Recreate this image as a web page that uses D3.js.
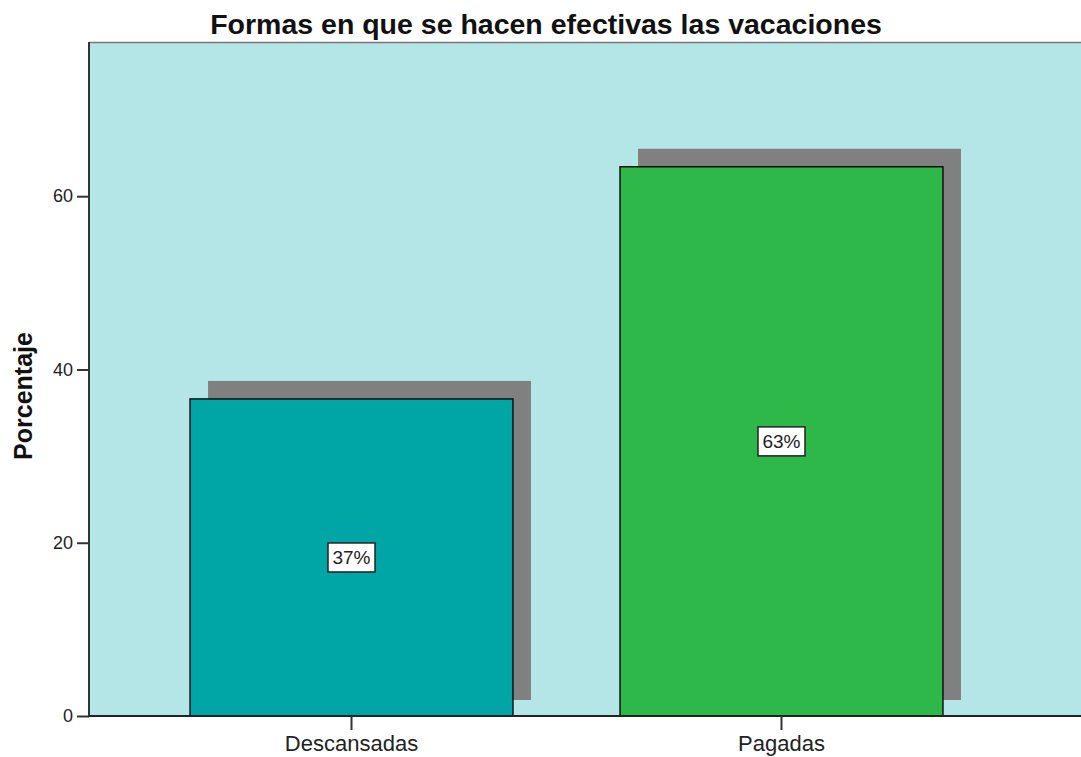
<!DOCTYPE html>
<html>
<head>
<meta charset="utf-8">
<script src="https://cdn.jsdelivr.net/npm/d3@7"></script>
<style>
  body { margin: 0; background: #fff; }
  svg text { font-family: "Liberation Sans", Arial, sans-serif; }
</style>
</head>
<body>
<div id="chart"></div>
<script>
(function(){
  'use strict';

  var categories = ['Descansadas', 'Pagadas'],
      values = [36.6, 63.4],
      labels = ['37%', '63%'],
      colors = ['#00a6a6', '#2eb84a'],
      yTicks = [0, 20, 40, 60];

  var w = 1081,
      h = 757,
      left = 89,
      top = 42,
      bottom = 716,
      shadowOff = 18;

  var svg = d3.select('#chart').append('svg')
      .attr('width', w)
      .attr('height', h);

  var x = d3.scaleBand()
      .domain(categories)
      .range([left, 1044])
      .paddingInner(0.249)
      .paddingOuter(0.235);

  var y = d3.scaleLinear()
      .domain([0, 77.8])
      .range([bottom, top]);

  // plot background
  svg.append('rect')
    .attr('x', left)
    .attr('y', top)
    .attr('width', w - left)
    .attr('height', bottom - top)
    .style('fill', '#b4e6e7');

  svg.append('line')
    .attr('x1', left).attr('x2', w)
    .attr('y1', top + 0.5).attr('y2', top + 0.5)
    .style('stroke', '#777')
    .style('stroke-width', 1.5);

  // shadows
  svg.selectAll('.shadow')
    .data(values)
    .enter()
    .append('rect')
    .attr('class', 'shadow')
    .attr('x', function(d, i) { return x(categories[i]) + shadowOff; })
    .attr('y', function(d) { return y(d) - shadowOff; })
    .attr('width', x.bandwidth())
    .attr('height', function(d) { return y(0) - 16 - (y(d) - shadowOff); })
    .style('fill', '#808080');

  // bars
  svg.selectAll('.bar')
    .data(values)
    .enter()
    .append('rect')
    .attr('class', 'bar')
    .attr('x', function(d, i) { return x(categories[i]); })
    .attr('y', function(d) { return y(d); })
    .attr('width', x.bandwidth())
    .attr('height', function(d) { return y(0) - y(d); })
    .style('fill', function(d, i) { return colors[i]; })
    .style('stroke', '#111')
    .style('stroke-width', 1.5);

  // value labels
  var lab = svg.selectAll('.lab')
    .data(values)
    .enter()
    .append('g')
    .attr('class', 'lab')
    .attr('transform', function(d, i) {
      return 'translate(' + (x(categories[i]) + x.bandwidth() / 2) + ',' + y(d / 2) + ')';
    });

  lab.append('rect')
    .attr('x', -23.5)
    .attr('y', -14.5)
    .attr('width', 47)
    .attr('height', 29)
    .style('fill', '#fff')
    .style('stroke', '#222')
    .style('stroke-width', 1.5);

  lab.append('text')
    .attr('text-anchor', 'middle')
    .attr('dy', '0.36em')
    .style('font-size', '19px')
    .style('fill', '#222')
    .text(function(d, i) { return labels[i]; });

  // axes
  var yAxis = d3.axisLeft(y)
      .tickValues(yTicks)
      .tickSize(12)
      .tickPadding(4);

  var gy = svg.append('g')
    .attr('transform', 'translate(' + left + ',0)')
    .call(yAxis);
  gy.attr('font-size', 18).attr('font-family', '"Liberation Sans", Arial, sans-serif');
  gy.select('.domain').style('stroke', '#333').style('stroke-width', 2).attr('d', 'M0,' + top + 'V' + bottom);
  gy.selectAll('.tick line').style('stroke', '#333').style('stroke-width', 2);
  gy.selectAll('.tick text').style('font-size', '18px').style('fill', '#222');

  var xAxis = d3.axisBottom(x)
      .tickSize(14)
      .tickPadding(5);

  var gx = svg.append('g')
    .attr('transform', 'translate(0,' + bottom + ')')
    .call(xAxis);
  gx.attr('font-size', 22).attr('font-family', '"Liberation Sans", Arial, sans-serif');
  gx.select('.domain').attr('d', 'M' + left + ',0H' + w).style('stroke', '#222').style('stroke-width', 2);
  gx.selectAll('.tick line').style('stroke', '#333').style('stroke-width', 2);
  gx.selectAll('.tick text').style('font-size', '22px').style('fill', '#222');

  // titles
  svg.append('text')
    .attr('x', 546)
    .attr('y', 34)
    .attr('text-anchor', 'middle')
    .style('font-size', '28.5px')
    .style('font-weight', 'bold')
    .style('fill', '#111')
    .text('Formas en que se hacen efectivas las vacaciones');

  svg.append('text')
    .attr('transform', 'translate(32,396) rotate(-90)')
    .attr('text-anchor', 'middle')
    .style('font-size', '25px')
    .style('font-weight', 'bold')
    .style('fill', '#111')
    .text('Porcentaje');

}());
</script>
</body>
</html>
